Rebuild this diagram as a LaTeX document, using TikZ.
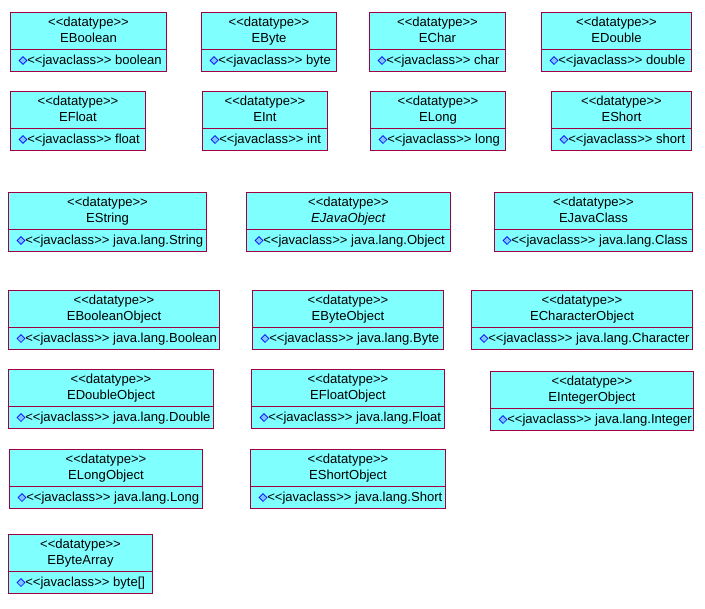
\documentclass[tikz,border=0pt]{standalone}
\usepackage{fontspec}
\setmainfont{Liberation Sans}
\usetikzlibrary{calc}
\definecolor{boxfill}{RGB}{128,255,255}
\definecolor{boxline}{RGB}{160,0,64}
\definecolor{iconblue}{RGB}{0,0,255}
\definecolor{iconfill}{RGB}{120,200,255}
\tikzset{
    dtbox/.style={draw=boxline,fill=boxfill,line width=0.75pt,inner sep=0pt,anchor=north west},
    dttext/.style={inner sep=0pt,font=\fontsize{9.8}{11}\selectfont},
    dticon/.style={draw=iconblue,fill=iconfill,line width=0.5pt,minimum size=4.2pt,inner sep=0pt,rotate=45,shape=rectangle}
}
% name, x, y, w, title, attribute
\newcommand{\dtype}[6]{%
    \node[dtbox,minimum width=#4*0.75pt,minimum height=44.25pt] (#1) at (#2,#3) {};
    \draw[boxline,line width=0.75pt] ($(#1.north west)+(0,37)$) -- ($(#1.north east)+(0,37)$);
    \node[dttext,anchor=base] (#1-st) at ($(#1.north)+(0,14)$) {{<}{<}datatype{>}{>}};
    \node[dttext,anchor=base] (#1-nm) at ($(#1.north)+(0,30)$) {#5};
    \node[dticon] (#1-ic) at ($(#1.north west)+(13,48.5)$) {};
    \node[dttext,anchor=base west] (#1-at) at ($(#1.north west)+(17,52)$) {{<}{<}javaclass{>}{>} #6};
}
\begin{document}
\begin{tikzpicture}[x=0.75pt,y=0.75pt,yscale=-1,xscale=1]
\useasboundingbox (0,0) rectangle (705,608);

%Row 1
\dtype{eboolean}{10}{12}{156}{EBoolean}{boolean}
\dtype{ebyte}{201}{12}{135}{EByte}{byte}
\dtype{echar}{369}{12}{136}{EChar}{char}
\dtype{edouble}{541}{12}{150}{EDouble}{double}
%Row 2
\dtype{efloat}{10}{91}{135}{EFloat}{float}
\dtype{eint}{202}{91}{125}{EInt}{int}
\dtype{elong}{370}{91}{135}{ELong}{long}
\dtype{eshort}{551}{91}{140}{EShort}{short}
%Row 3
\dtype{estring}{8}{192}{198}{EString}{java.lang.String}
\dtype{ejavaobject}{246}{192}{204}{\textit{EJavaObject}}{java.lang.Object}
\dtype{ejavaclass}{494}{192}{198}{EJavaClass}{java.lang.Class}
%Row 4
\dtype{ebooleanobject}{8}{290}{211}{EBooleanObject}{java.lang.Boolean}
\dtype{ebyteobject}{252}{290}{191}{EByteObject}{java.lang.Byte}
\dtype{echaracterobject}{471}{290}{221}{ECharacterObject}{java.lang.Character}
%Row 5
\dtype{edoubleobject}{8}{369}{205}{EDoubleObject}{java.lang.Double}
\dtype{efloatobject}{251}{369}{193}{EFloatObject}{java.lang.Float}
\dtype{eintegerobject}{490}{371}{203}{EIntegerObject}{java.lang.Integer}
%Row 6
\dtype{elongobject}{9}{449}{193}{ELongObject}{java.lang.Long}
\dtype{eshortobject}{250}{449}{195}{EShortObject}{java.lang.Short}
%Row 7
\dtype{ebytearray}{8}{534}{144}{EByteArray}{byte[]}

\end{tikzpicture}
\end{document}
